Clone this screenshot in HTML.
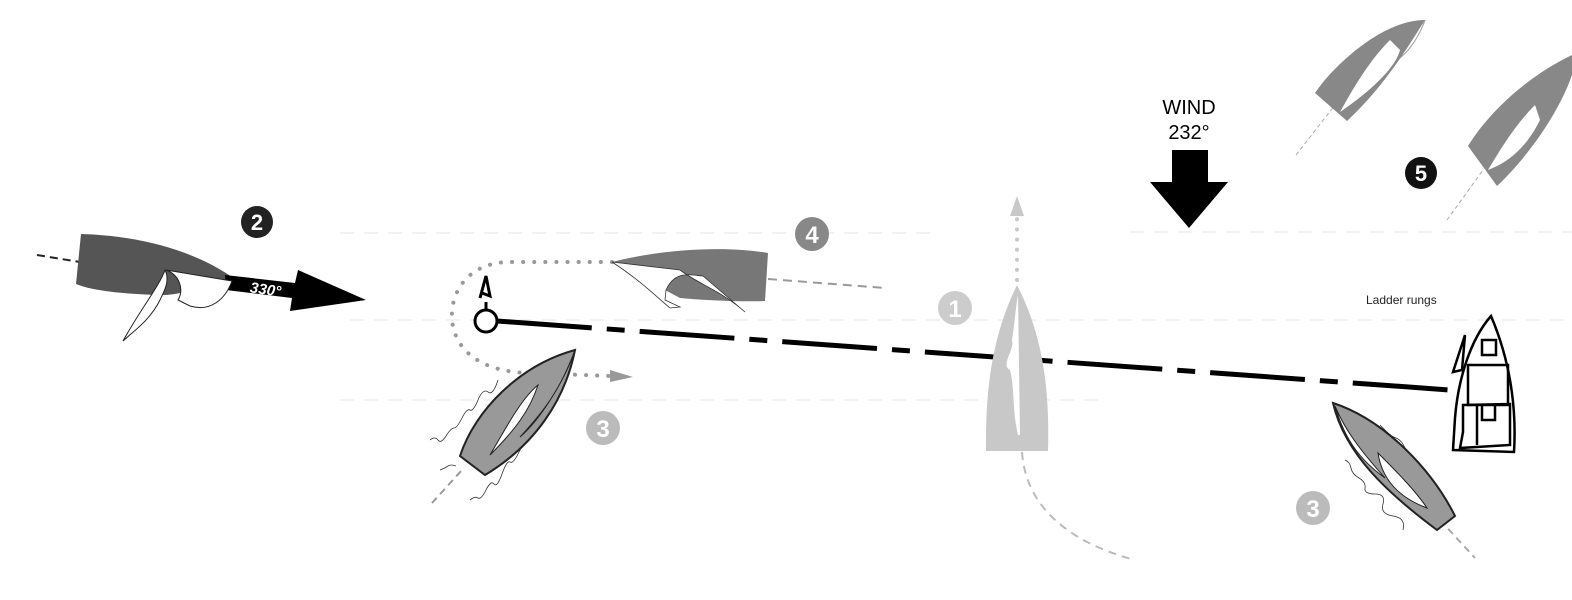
<!DOCTYPE html>
<html><head><meta charset="utf-8"><style>
html,body{margin:0;padding:0;background:#fff;width:1572px;height:600px;overflow:hidden}
svg{display:block}
text{font-family:"Liberation Sans",sans-serif}
</style></head><body>
<svg width="1572" height="600" viewBox="0 0 1572 600">
<g stroke="#eee" stroke-width="1.5" stroke-dasharray="14 10">
<line x1="340" y1="233" x2="930" y2="233"/>
<line x1="350" y1="320" x2="1572" y2="320"/>
<line x1="340" y1="400" x2="1100" y2="400"/>
<line x1="1130" y1="232" x2="1572" y2="232"/>
</g>
<!-- Boat 2 -->
<line x1="37" y1="255" x2="80" y2="262" stroke="#222" stroke-width="2" stroke-dasharray="8 5"/>
<path d="M81,234 C150,236 200,255 232,277 L225,281 C200,290 170,296 160,295 C120,294 90,290 76,284 Z" fill="#555"/>
<polygon points="225,275 295,283 298,270 366,300 290,311 292,298 226,290" fill="#000"/>
<text x="250" y="294" font-size="15" font-weight="bold" font-style="italic" fill="#fff" transform="rotate(8 262 290)">330°</text>
<path d="M166,270 C180,275 184,290 178,300 L190,306 C210,312 225,300 232,281 Z" fill="#fff" stroke="#222" stroke-width="1"/>
<path d="M165,270 C160,285 140,310 123,341 C135,330 150,320 160,300 C165,290 170,280 165,270 Z" fill="#fff" stroke="#222" stroke-width="1"/>
<circle cx="257" cy="222" r="16" fill="#222"/>
<text x="257" y="230" font-size="22" font-weight="bold" fill="#fff" text-anchor="middle" font-family="Liberation Serif">2</text>
<!-- start line -->
<line x1="497" y1="321" x2="1450" y2="390" stroke="#000" stroke-width="5" stroke-dasharray="95 15 18 15"/>
<circle cx="486" cy="321" r="11" fill="#fff" stroke="#000" stroke-width="3"/>
<path d="M486,310 L486,302 M480,298 L486,276 L490,296 L482,293" fill="none" stroke="#000" stroke-width="3"/>
<!-- dotted path -->
<path d="M612,262 L510,262 C470,262 450,290 452,320 C455,350 480,372 530,373 L610,376" fill="none" stroke="#999" stroke-width="4" stroke-linecap="round" stroke-dasharray="0.1 11"/>
<polygon points="610,370 633,377 610,382" fill="#999"/>
<!-- Boat 4 -->
<line x1="768" y1="279" x2="885" y2="288" stroke="#999" stroke-width="2" stroke-dasharray="9 6"/>
<path d="M612,262 C680,245 740,248 768,253 L765,301 C740,302 700,300 680,298 Z" fill="#777"/>
<path d="M612,262 C640,280 660,300 670,308 L680,307 L665,300 L666,290 C675,270 690,275 703,276 L745,312 C720,290 700,285 680,270 Z" fill="#fff" stroke="#333" stroke-width="0.8"/>
<circle cx="812" cy="234" r="17" fill="#888"/>
<text x="812" y="243" font-size="24" font-weight="bold" fill="#fff" text-anchor="middle" font-family="Liberation Serif">4</text>
<!-- Boat 3 left -->
<line x1="432" y1="503" x2="462" y2="470" stroke="#999" stroke-width="2" stroke-dasharray="7 5"/>
<g fill="none" stroke="#333" stroke-width="0.8">
<path d="M430,440 q5,-4 8,0 t8,-4 t8,-8 t8,-10 t8,-8 t8,-10 t10,-8 t10,-12"/>
<path d="M470,500 q5,-4 8,-2 t8,-8 t8,-6 t8,-10 t8,-12 t8,-8 t8,-14"/>
<path d="M440,470 q5,-2 8,-4 t8,0"/>
</g>
<path d="M575,350 C520,365 475,410 460,456 L485,475 C535,445 565,400 575,350 Z" fill="#999" stroke="#222" stroke-width="2"/>
<path d="M538,385 C520,400 505,430 490,455 C515,430 530,410 538,385 Z" fill="#fff" stroke="#222"/>
<path d="M575,350 C565,380 540,420 520,437 C545,410 560,390 575,350 Z" fill="#fff" stroke="#222"/>
<circle cx="603" cy="428" r="17" fill="#bbb"/>
<text x="603" y="437" font-size="24" font-weight="bold" fill="#fff" text-anchor="middle" font-family="Liberation Serif">3</text>
<!-- Boat 1 center -->
<path d="M1017,280 L1017,215" stroke="#c8c8c8" stroke-width="4" stroke-linecap="round" stroke-dasharray="0.1 10"/>
<polygon points="1010,216 1017,196 1024,216" fill="#c8c8c8"/>
<path d="M1022,452 C1025,500 1060,540 1135,560" fill="none" stroke="#bbb" stroke-width="2" stroke-dasharray="8 6"/>
<path d="M1017,285 C995,330 985,380 986,451 L1048,451 C1050,380 1040,330 1017,285 Z" fill="#c8c8c8"/>
<path d="M1018,295 L1020,435 L1018,435 C1012,410 1015,390 1010,370 C1000,365 1015,350 1012,340 C1015,320 1016,305 1018,295 Z" fill="#fff"/>
<circle cx="955" cy="308" r="17" fill="#ccc"/>
<text x="955" y="317" font-size="24" font-weight="bold" fill="#fff" text-anchor="middle" font-family="Liberation Serif">1</text>
<!-- Wind -->
<text x="1189" y="114" font-size="20" text-anchor="middle" fill="#000">WIND</text>
<text x="1189" y="139" font-size="20" text-anchor="middle" fill="#000">232°</text>
<polygon points="1172,150 1208,150 1208,182 1228,182 1189,228 1150,182 1172,182" fill="#000"/>
<!-- top right boats -->
<line x1="1296" y1="155" x2="1335" y2="105" stroke="#aaa" stroke-width="1" stroke-dasharray="4 3"/>
<path d="M1425,20 C1380,20 1330,70 1315,93 L1347,121 C1380,90 1400,60 1425,20 Z" fill="#888"/>
<path d="M1390,40 C1370,60 1355,85 1340,112 C1365,95 1395,70 1400,50 Z" fill="#fff"/>
<path d="M1425,20 C1420,35 1410,50 1400,58" fill="none" stroke="#999" stroke-width="1"/>
<line x1="1447" y1="220" x2="1483" y2="170" stroke="#aaa" stroke-width="1" stroke-dasharray="4 3"/>
<path d="M1572,55 C1530,75 1490,110 1468,146 L1497,186 C1530,155 1560,110 1572,75 Z" fill="#888"/>
<path d="M1535,105 C1515,125 1500,150 1488,170 C1515,160 1530,140 1540,120 Z" fill="#fff"/>
<circle cx="1421" cy="173" r="16" fill="#111"/>
<text x="1421" y="181" font-size="22" font-weight="bold" fill="#fff" text-anchor="middle" font-family="Liberation Serif">5</text>
<!-- Ladder rungs + committee boat -->
<text x="1366" y="304" font-size="12" fill="#222">Ladder rungs</text>
<g fill="none" stroke="#000" stroke-width="2.5">
<path d="M1491,316 C1470,340 1458,380 1455,418 L1453,450 L1514,452 C1516,420 1514,370 1491,316 Z"/>
<path d="M1460,448 L1463,432 L1463,405 L1510,404 L1510,445 Z M1477,404 L1477,445 M1482,405 L1482,420 L1495,420 L1495,405"/>
<rect x="1468" y="365" width="40" height="40"/>
<rect x="1482" y="340" width="14" height="15"/>
<path d="M1462,370 L1465,335 L1453,372 Z"/>
</g>
<!-- Boat 3 right -->
<line x1="1440" y1="520" x2="1475" y2="558" stroke="#aaa" stroke-width="2" stroke-dasharray="7 5"/>
<g fill="none" stroke="#333" stroke-width="0.8">
<path d="M1380,425 q5,5 8,8 t8,5 t8,8 t6,10 t8,8 t10,10 t10,15"/>
<path d="M1345,460 q5,2 6,8 t8,10 t6,10 t10,6 t8,10 t10,12 t10,14"/>
</g>
<path d="M1333,403 C1385,420 1432,470 1455,516 L1437,530 C1390,495 1345,455 1333,403 Z" fill="#999" stroke="#222" stroke-width="2"/>
<path d="M1378,453 C1395,470 1415,490 1427,508 C1400,498 1382,480 1378,453 Z" fill="#fff" stroke="#222"/>
<path d="M1335,406 C1345,430 1360,450 1385,478 C1360,460 1345,440 1335,406 Z" fill="#fff" stroke="#222"/>
<circle cx="1313" cy="508" r="17" fill="#bbb"/>
<text x="1313" y="517" font-size="24" font-weight="bold" fill="#fff" text-anchor="middle" font-family="Liberation Serif">3</text>
</svg>
</body></html>
